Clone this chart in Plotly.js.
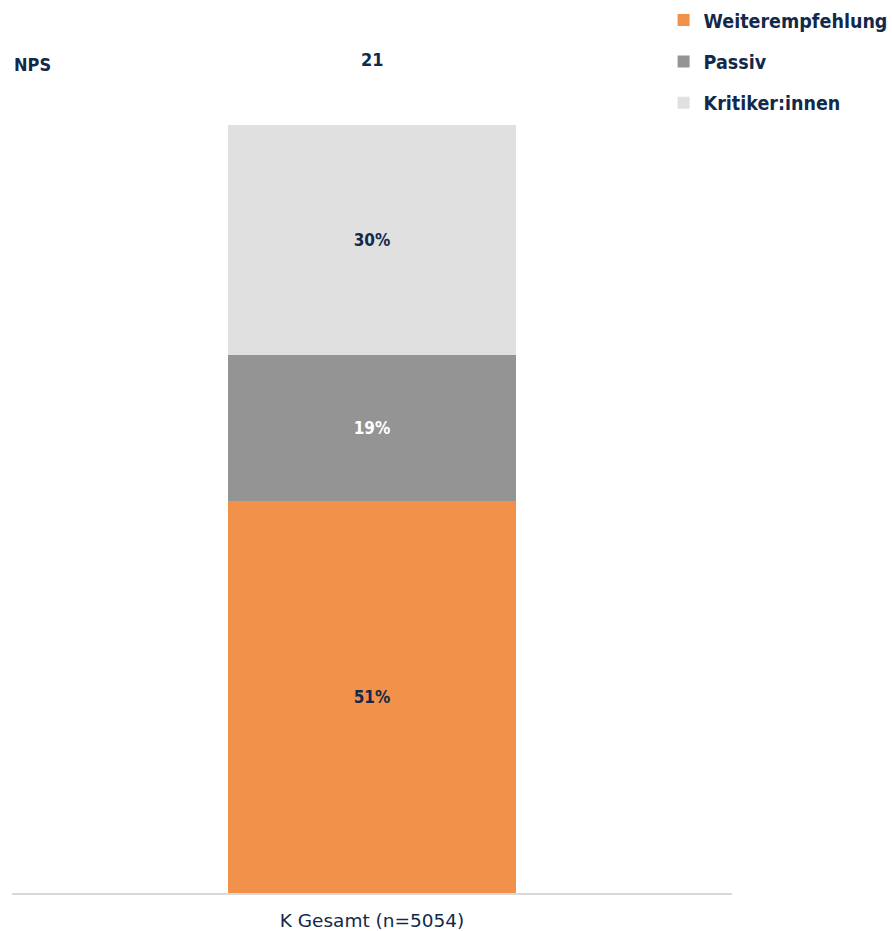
<!DOCTYPE html>
<html>
<head>
<meta charset="utf-8">
<script src="https://cdn.plot.ly/plotly-3.0.1.min.js"></script>
<style>html,body{margin:0;padding:0;background:#fff;}#chart{width:892px;height:931px;}</style>
</head>
<body>
<div id="chart"></div>
<script>
const categories = ['K Gesamt (n=5054)'];
const seriesNames = ['Weiterempfehlung', 'Passiv', 'Kritiker:innen'];
const weiterempfehlung = [51];
const passiv = [19];
const kritiker = [30];
const npsLabel = 'NPS';
const npsValues = [21];

const navy = '#13294B';
const fontFam = '"DejaVu Sans Condensed", "Liberation Sans Narrow", "DejaVu Sans", sans-serif';
const colors = ['#F2914A', '#949494', '#E0E0E0'];
const textColors = [navy, '#FFFFFF', navy];
const values = [weiterempfehlung, passiv, kritiker];

const traces = seriesNames.map((name, i) => ({
  type: 'bar',
  name: name,
  x: categories,
  y: values[i],
  marker: {color: colors[i]},
  texttemplate: '<b>%{y}%</b>',
  textposition: 'inside',
  insidetextanchor: 'middle',
  textfont: {family: fontFam, size: 17, color: textColors[i]},
  hoverinfo: 'skip',
  legendgroup: 'g' + i
}));

const annotations = [
  {xref: 'paper', yref: 'paper', x: 0, y: 1, xshift: 0, yshift: 61, xanchor: 'left', yanchor: 'middle',
   text: '<b>' + npsLabel + '</b>', showarrow: false, font: {family: fontFam, size: 18, color: navy}}
];
categories.forEach((c, i) => {
  annotations.push({xref: 'x', yref: 'paper', x: c, y: 1, yshift: 66, xanchor: 'center', yanchor: 'middle',
    text: '<b>' + npsValues[i] + '</b>', showarrow: false, font: {family: fontFam, size: 18, color: navy}});
});

const layout = {
  width: 892, height: 931,
  margin: {l: 12, r: 160, t: 125, b: 38, pad: 0, autoexpand: false},
  paper_bgcolor: '#FFFFFF', plot_bgcolor: '#FFFFFF',
  barmode: 'stack',
  bargap: 0.6,
  showlegend: true,
  legend: {
    x: 0.905, y: 0.999, xref: 'paper', yref: 'container', xanchor: 'left', yanchor: 'top',
    traceorder: 'grouped', tracegroupgap: 13,
    font: {family: fontFam, size: 19.5, color: navy, weight: 'bold'},
    bgcolor: 'rgba(0,0,0,0)', borderwidth: 0
  },
  xaxis: {
    type: 'category', showgrid: false, zeroline: false, automargin: false,
    showline: true, linecolor: '#D9D9D9', linewidth: 2,
    ticks: '', ticklabelstandoff: 10,
    tickfont: {family: '"DejaVu Sans", sans-serif', size: 18.5, color: navy},
    fixedrange: true
  },
  yaxis: {range: [0, 100], visible: false, fixedrange: true, automargin: false},
  annotations: annotations
};

Plotly.newPlot('chart', traces, layout, {displayModeBar: false, staticPlot: true});
</script>
</body>
</html>
